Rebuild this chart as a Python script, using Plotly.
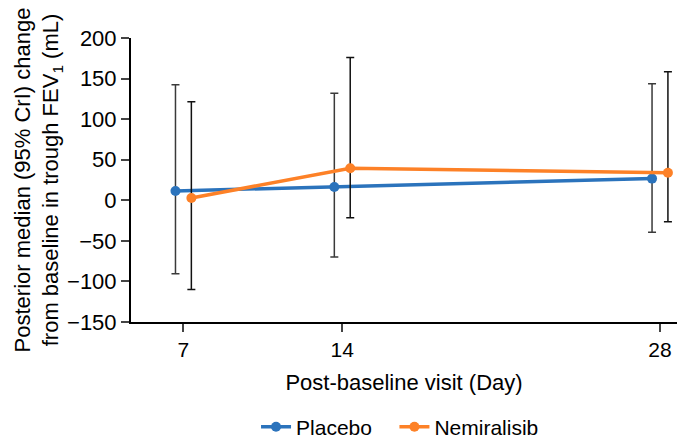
import plotly.graph_objects as go

days = [7, 14, 28]
placebo_median = [11.5, 16.4, 26.7]
placebo_upper = [142.3, 132.0, 143.6]
placebo_lower = [-90.6, -70.0, -39.5]
nemi_median = [2.8, 39.5, 34.0]
nemi_upper = [121.4, 176.0, 158.4]
nemi_lower = [-110.0, -21.5, -26.4]
x_ticks = [7, 14, 28]
y_ticks = [-150, -100, -50, 0, 50, 100, 150, 200]

dodge = 0.35
font = "Liberation Sans, Arial, sans-serif"
gap = "\u00a0\u00a0\u00a0"

def trace(name, med, up, lo, shift, color, ecolor):
    return go.Scatter(
        x=[d + shift for d in days], y=med, name=name, mode="lines+markers",
        line=dict(color=color, width=3.5), marker=dict(color=color, size=10),
        error_y=dict(type="data", symmetric=False,
                     array=[u - m for u, m in zip(up, med)],
                     arrayminus=[m - l for m, l in zip(med, lo)],
                     color=ecolor, thickness=1.5, width=4),
    )

fig = go.Figure()
fig.add_trace(trace("Placebo" + gap, placebo_median, placebo_upper, placebo_lower, -dodge, "#2b73bc", "#3a3a3a"))
fig.add_trace(trace("Nemiralisib", nemi_median, nemi_upper, nemi_lower, dodge, "#fd8127", "#111111"))

fig.update_layout(
    width=685, height=441, plot_bgcolor="white", paper_bgcolor="white",
    margin=dict(l=131, r=8, t=38, b=119, autoexpand=False),
    font=dict(family=font, size=21, color="black"),
    showlegend=True,
    legend=dict(orientation="h", x=0.229, xanchor="left", y=-0.37, yanchor="middle",
                font=dict(size=21), tracegroupgap=0),
    xaxis=dict(range=[4.69, 28.75], tickvals=x_ticks, ticks="outside", ticklen=8, tickwidth=2,
               showline=True, linecolor="black", linewidth=2, showgrid=False, zeroline=False,
               tickfont=dict(size=21), automargin=False,
               title=dict(text="Post-baseline visit (Day)", font=dict(size=22), standoff=14)),
    yaxis=dict(range=[-150, 200], tickvals=y_ticks, ticks="outside", ticklen=8, tickwidth=2,
               showline=True, linecolor="black", linewidth=2, showgrid=False, zeroline=False,
               tickfont=dict(size=22), automargin=False,
               title=dict(text="Posterior median (95% CrI) change<br>from baseline in trough FEV<sub>1</sub> (mL)",
                          font=dict(size=22), standoff=2)),
)

fig.write_html("out.html", config={"displayModeBar": False},
               post_script="document.body.style.margin='0px';")
